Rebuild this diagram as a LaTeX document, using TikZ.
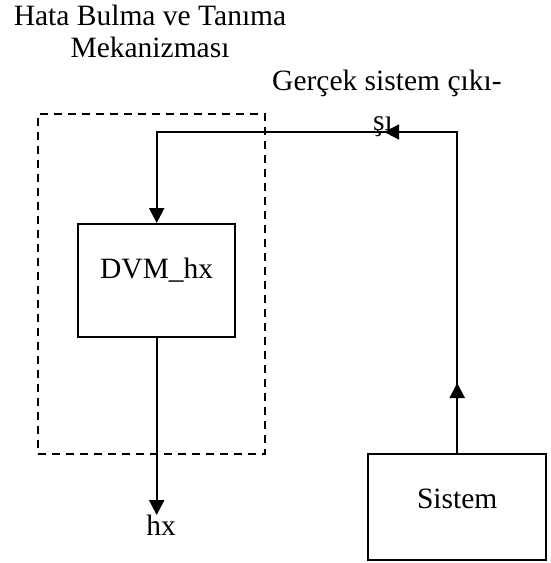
\documentclass[tikz,border=0pt]{standalone}
\usepackage{fontspec}
\setmainfont{Liberation Serif}
\usetikzlibrary{arrows.meta,decorations.markings}
\begin{document}
\begin{tikzpicture}[x=1pt,y=-1pt,
  every node/.style={font=\fontsize{29.5}{33}\selectfont, inner sep=0pt},
  wire/.style={line width=2.4pt, line join=miter},
  tip/.style={-{Triangle[length=15pt,width=15pt]}},
  blockbox/.style={draw, line width=2.4pt, inner sep=0pt},
  groupbox/.style={draw, line width=2.2pt, dash pattern=on 8pt off 6pt},
  midarrows/.style={postaction={decorate},
    decoration={markings,
      mark=at position 70pt with {\arrow{Triangle[length=15pt,width=15pt]}},
      mark=at position 394pt with {\arrow{Triangle[length=15pt,width=15pt]}}}}
]
\useasboundingbox (0,0) rectangle (551,563);
% group
\node[groupbox, minimum width=227pt, minimum height=340pt, anchor=north west] (grp) at (37,112.5) {};
% blocks
\node[blockbox, anchor=north west, minimum width=157pt, text height=54pt, text depth=59pt] (dvm) at (77,223) {DVM\_hx};
\node[blockbox, anchor=north west, minimum width=178pt, text height=54pt, text depth=52pt] (sys) at (367,453) {Sistem};
% texts
\node[anchor=base] (t1) at (150,25) {Hata Bulma ve Tanıma};
\node[anchor=base] (t2) at (150,57) {Mekanizması};
\node[anchor=base west] (t3) at (272,90) {Gerçek sistem çıkı-};
\node[anchor=base] (t4) at (383,130) {şı};
\node[anchor=base] (hx) at (161,535) {hx};
% connectors
\coordinate (c1) at (sys.north |- 0,132);
\coordinate (c2) at (dvm.north |- 0,132);
\coordinate (hxend) at (dvm.south |- 0,515);
\draw[wire, tip, midarrows] (sys.north) -- (c1) -- (c2) -- (dvm.north);
\draw[wire, tip] (dvm.south) -- (hxend);
\end{tikzpicture}
\end{document}
